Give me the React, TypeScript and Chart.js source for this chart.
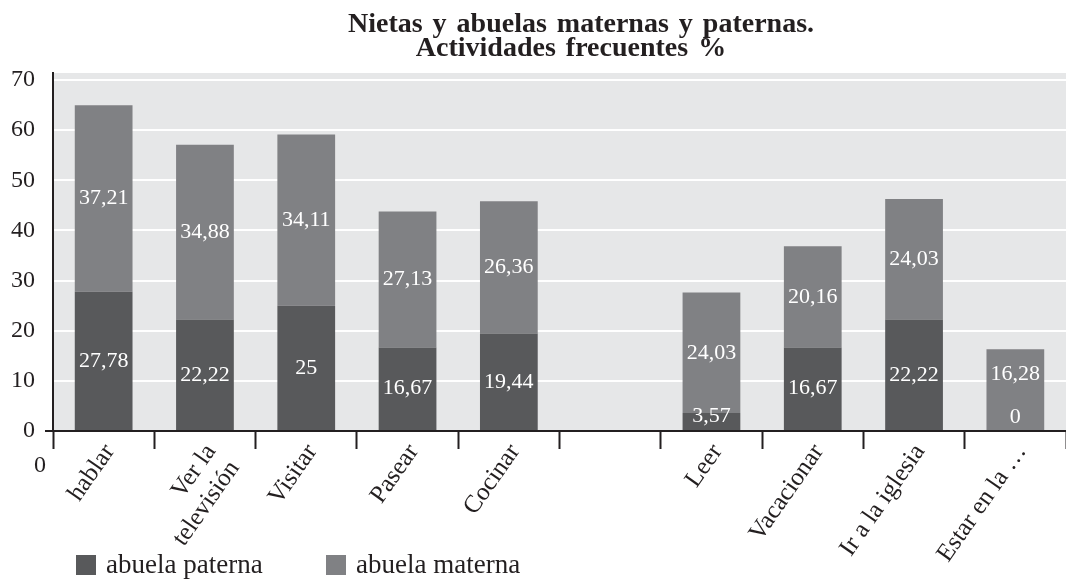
import React, { useEffect, useRef } from "react";
import { Chart, registerables } from "chart.js";

Chart.register(...registerables);

const categories: (string | string[])[] = [
  "hablar",
  ["Ver la", "televisión"],
  "Visitar",
  "Pasear",
  "Cocinar",
  "",
  "Leer",
  "Vacacionar",
  "Ir a la iglesia",
  "Estar en la …",
];
const abuelaPaterna: (number | null)[] = [27.78, 22.22, 25, 16.67, 19.44, null, 3.57, 16.67, 22.22, 0];
const abuelaMaterna: (number | null)[] = [37.21, 34.88, 34.11, 27.13, 26.36, null, 24.03, 20.16, 24.03, 16.28];
const yTicks = [0, 10, 20, 30, 40, 50, 60, 70];
const titleLines = ["Nietas y abuelas maternas y paternas.", "Actividades frecuentes %"];

const DARK = "#58595b";
const MID = "#808184";
const BG = "#e6e7e8";
const INK = "#231f20";
const SERIF = "'Liberation Serif', 'Times New Roman', serif";

const fmt = (v: number) => String(v).replace(".", ",");

const decorPlugin = {
  id: "decor",
  beforeDraw(chart: any) {
    const { ctx, chartArea: a } = chart;
    ctx.save();
    ctx.fillStyle = BG;
    ctx.fillRect(a.left, a.top, a.right - a.left, a.bottom - a.top);
    ctx.restore();
  },
  afterDatasetsDraw(chart: any) {
    const { ctx } = chart;
    ctx.save();
    ctx.font = `22px ${SERIF}`;
    ctx.fillStyle = "#ffffff";
    ctx.textAlign = "center";
    ctx.textBaseline = "middle";
    const m0 = chart.getDatasetMeta(0);
    const m1 = chart.getDatasetMeta(1);
    const d0 = chart.data.datasets[0].data;
    const d1 = chart.data.datasets[1].data;
    for (let i = 0; i < d0.length; i++) {
      if (d0[i] == null || d1[i] == null) continue;
      const b0 = m0.data[i];
      const b1 = m1.data[i];
      const y0 = Math.min((b0.y + b0.base) / 2, b0.base - 14);
      let y1 = (b1.y + b1.base) / 2;
      if (y1 > y0 - 43) y1 = y0 - 43;
      ctx.fillText(fmt(d0[i]), b0.x, y0);
      ctx.fillText(fmt(d1[i]), b1.x, y1);
    }
    ctx.restore();
  },
  afterDraw(chart: any) {
    const { ctx } = chart;
    ctx.save();
    // title
    ctx.fillStyle = INK;
    ctx.font = `bold 28px ${SERIF}`;
    ctx.textAlign = "center";
    ctx.textBaseline = "alphabetic";
    try {
      (ctx as any).wordSpacing = "3px";
    } catch (e) {}
    ctx.fillText(titleLines[0], 581, 32);
    ctx.fillText(titleLines[1], 571, 56);
    try {
      (ctx as any).wordSpacing = "0px";
    } catch (e) {}
    // stray zero under axis
    ctx.font = `24px ${SERIF}`;
    ctx.textBaseline = "middle";
    ctx.fillText("0", 40, 466);
    // legend
    const items = [
      { x: 76, label: chart.data.datasets[0].label, color: DARK },
      { x: 326, label: chart.data.datasets[1].label, color: MID },
    ];
    ctx.font = `27px ${SERIF}`;
    ctx.textAlign = "left";
    ctx.textBaseline = "alphabetic";
    for (const it of items) {
      ctx.fillStyle = it.color;
      ctx.fillRect(it.x, 555, 20, 20);
      ctx.fillStyle = INK;
      ctx.fillText(it.label, it.x + 30, 573);
    }
    ctx.restore();
  },
};

export default function App() {
  const ref = useRef<HTMLCanvasElement>(null);
  useEffect(() => {
    if (!ref.current) return;
    const chart = new Chart(ref.current, {
      type: "bar",
      data: {
        labels: categories as any,
        datasets: [
          {
            label: "abuela paterna",
            data: abuelaPaterna,
            backgroundColor: DARK,
            barPercentage: 0.57,
            categoryPercentage: 1,
          },
          {
            label: "abuela materna",
            data: abuelaMaterna,
            backgroundColor: MID,
            barPercentage: 0.57,
            categoryPercentage: 1,
          },
        ],
      },
      options: {
        responsive: false,
        animation: false,
        devicePixelRatio: 1,
        layout: { padding: { top: 73, left: 0, right: 0, bottom: 0 } },
        plugins: {
          legend: { display: false },
          tooltip: { enabled: false },
          title: { display: false },
        },
        scales: {
          x: {
            stacked: true,
            offset: true,
            grid: {
              offset: true,
              drawOnChartArea: false,
              drawTicks: true,
              tickLength: 18,
              tickColor: INK,
              tickWidth: 2,
            },
            border: { display: true, color: INK, width: 2 },
            ticks: {
              autoSkip: false,
              minRotation: 55,
              maxRotation: 55,
              padding: -10,
              labelOffset: 6,
              color: INK,
              font: { family: SERIF, size: 25, lineHeight: 1.15 },
            },
            afterFit(scale: any) {
              scale.height = 150;
            },
          },
          y: {
            stacked: true,
            min: 0,
            max: 71.4,
            afterBuildTicks(scale: any) {
              scale.ticks = yTicks.map((v) => ({ value: v }));
            },
            grid: {
              color: (c: any) => (c.tick && c.tick.value === 0 ? "rgba(0,0,0,0)" : "#ffffff"),
              lineWidth: 2,
              drawTicks: true,
              tickLength: 8,
              tickColor: (c: any) => (c.tick && c.tick.value === 0 ? INK : "rgba(0,0,0,0)"),
              tickWidth: 2,
            },
            border: { display: true, color: INK, width: 2 },
            ticks: {
              padding: 10,
              color: INK,
              font: { family: SERIF, size: 24 },
            },
            afterFit(scale: any) {
              scale.width = 53;
            },
          },
        },
      },
      plugins: [decorPlugin],
    });
    return () => chart.destroy();
  }, []);
  return (
    <div style={{ position: "fixed", left: 0, top: 0, width: 1066, height: 581, background: "#fff" }}>
      <canvas ref={ref} width={1066} height={581} style={{ display: "block" }} />
    </div>
  );
}
